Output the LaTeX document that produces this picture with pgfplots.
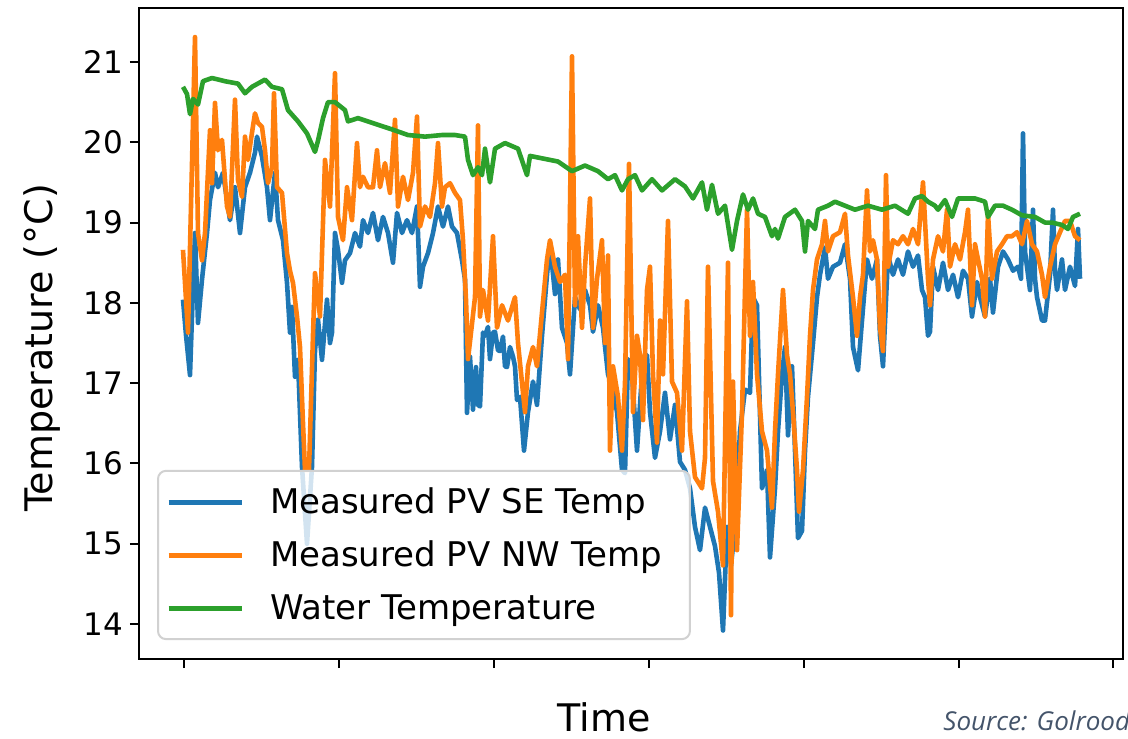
\documentclass[border=0pt]{standalone}
\usepackage{pgfplots}
\pgfplotsset{compat=1.18}
\usepackage{fontspec}
\setmainfont{DejaVu Sans}
\newfontfamily\srcfont{Open Sans}
\definecolor{c1}{HTML}{1F77B4}
\definecolor{c2}{HTML}{FF7F0E}
\definecolor{c3}{HTML}{2CA02C}
\definecolor{srcgray}{HTML}{44546A}
\begin{document}
\begin{tikzpicture}
\begin{axis}[name=ax, scale only axis, width=492pt, height=325.5pt,
 xmin=139, xmax=1123, ymin=13.565, ymax=21.672,
 xtick={184,339,494,649,804,959,1113}, xticklabels={},
 ytick={14,15,16,17,18,19,20,21},
 tick align=outside, xtick pos=bottom, ytick pos=left,
 major tick length=4.5pt,
 every tick/.style={black, line width=1pt},
 axis line style={line width=1pt},
 /pgf/number format/assume math mode=true,
 yticklabel style={font=\fontsize{15.5}{18}\selectfont},
 xlabel={Time}, ylabel={Temperature (°C)},
 xlabel style={font=\fontsize{19}{22}\selectfont, at={(axis description cs:0.4726,-0.1106)}, anchor=base, inner sep=0pt},
 ylabel style={font=\fontsize{19}{22}\selectfont, at={(axis description cs:-0.118,0.478)}, anchor=north, inner sep=0pt},
 legend style={at={(0.0183,0.029)}, anchor=south west, draw=black!18, line width=1pt, rounded corners=4pt, fill=white, fill opacity=0.8, text opacity=1, draw opacity=1, font=\fontsize{17}{20}\selectfont, inner xsep=4pt, inner ysep=6.5pt, row sep=8.2pt, nodes={inner sep=2pt}, /tikz/every odd column/.append style={column sep=11pt}},
 legend cell align=left,
 legend image code/.code={\draw[#1, line width=2.5pt] (0pt,0pt) -- (36.5pt,0pt);},
 every axis plot/.append style={line width=2.3pt, line join=round},
]
\addplot[c1] table {
183 18.04
186 17.60
190 17.10
193 18.20
195 18.87
198 17.75
202 18.29
207 18.87
210 19.28
215 19.62
218 19.44
223 19.62
227 19.28
230 19.03
235 19.44
240 18.87
245 19.44
250 19.62
255 19.87
257 20.07
262 19.82
267 19.44
270 19.03
275 19.62
278 19.03
283 18.78
287 18.25
290 17.63
292 17.95
295 17.08
298 17.29
302 15.96
307 15.00
312 15.96
315 17.41
318 17.79
322 17.29
327 18.04
330 17.50
332 17.63
335 18.87
338 18.66
342 18.25
345 18.53
350 18.62
355 18.87
360 18.70
363 19.03
368 18.87
373 19.12
378 18.78
383 19.07
388 18.87
393 18.50
397 19.12
402 18.87
407 19.03
412 18.87
417 19.20
420 18.20
423 18.45
428 18.62
433 18.87
438 19.20
443 18.95
448 19.20
452 18.95
457 18.87
462 18.53
465 18.29
467 16.63
470 17.33
473 16.67
476 17.20
478 16.73
480 16.71
483 17.63
485 17.59
488 17.70
490 17.30
493 17.63
495 17.64
498 17.41
500 17.40
503 17.58
505 17.21
507 17.20
510 17.45
513 17.33
515 17.21
517 16.79
520 16.83
524 16.16
528 16.64
533 17.02
537 16.73
542 17.59
547 18.35
550 18.73
555 18.11
558 18.54
562 17.69
567 17.50
570 17.11
575 18.07
580 17.92
585 18.16
590 17.97
593 17.64
598 17.97
603 17.69
608 17.11
613 16.92
617 16.64
622 15.92
625 15.88
628 17.30
632 17.11
637 16.16
642 17.11
647 17.35
650 16.64
655 16.07
660 16.40
665 16.88
670 16.30
675 16.73
680 16.02
685 15.92
690 15.69
695 15.21
700 14.92
705 15.45
710 15.21
715 14.97
719 14.64
723 13.92
727 15.21
731 14.73
735 15.21
740 16.40
745 16.92
750 16.88
753 18.07
757 17.97
762 15.69
767 15.92
770 14.83
775 15.69
778 16.40
782 17.11
785 17.45
788 16.35
792 17.21
795 16.16
798 15.07
802 15.16
805 16.16
808 16.83
813 17.50
817 18.07
820 18.35
825 18.69
828 18.30
833 18.45
840 18.50
845 18.73
850 18.30
853 17.45
858 17.16
862 17.78
867 18.54
872 18.30
877 18.54
880 17.59
883 17.21
888 18.59
893 18.35
898 18.54
903 18.35
908 18.64
913 18.45
918 18.59
922 18.16
925 18.07
928 17.59
930 17.64
933 18.45
938 18.16
943 18.50
948 18.16
953 18.35
958 18.07
963 18.40
968 18.30
972 17.83
977 18.26
980 18.07
985 17.83
990 18.30
993 17.88
998 18.45
1003 18.64
1008 18.54
1013 18.40
1018 18.45
1021 18.30
1023 20.11
1025 18.64
1030 18.16
1033 19.16
1035 18.30
1037 18.07
1042 17.78
1045 17.78
1050 18.35
1053 19.16
1055 18.40
1057 18.16
1062 18.54
1065 18.16
1070 18.45
1075 18.21
1078 18.92
1080 18.30
};
\addlegendentry{Measured PV SE Temp\rule{8pt}{0pt}}
\addplot[c2] table {
183 18.66
188 17.63
195 21.31
198 18.87
202 18.53
205 18.87
210 20.15
212 19.49
215 20.49
218 19.90
222 20.03
227 19.20
230 19.07
235 20.53
238 19.53
242 19.32
245 20.07
248 19.78
252 20.12
255 20.36
258 20.24
262 20.19
265 19.90
268 19.49
272 19.69
274 20.61
277 19.44
282 19.37
287 18.62
290 18.40
293 18.25
297 17.83
300 17.45
303 16.50
305 15.92
309 15.92
313 17.60
315 18.37
320 17.83
325 19.78
330 19.20
335 20.86
338 19.07
343 18.78
347 19.44
352 19.03
357 19.99
360 19.44
363 19.57
368 19.44
373 19.44
377 19.90
380 19.44
385 19.74
390 19.37
395 20.28
398 19.20
403 19.57
408 19.28
413 19.62
417 20.32
420 18.95
425 19.20
430 19.07
435 19.49
438 19.99
442 19.20
445 19.44
450 19.49
455 19.37
460 19.28
463 18.78
466 18.04
468 17.30
471 17.63
475 18.07
478 20.21
480 17.83
483 18.16
488 17.78
493 18.83
497 17.69
502 17.97
508 17.78
515 18.07
518 17.50
523 16.88
525 16.64
528 17.21
533 17.45
537 17.21
542 17.88
547 18.54
550 18.78
555 18.45
560 18.26
565 18.35
568 17.30
572 21.07
575 17.97
578 18.83
582 17.69
585 18.45
590 19.30
593 17.69
597 18.30
602 18.78
605 17.50
608 18.59
610 16.16
613 17.21
618 16.83
622 16.16
625 17.00
629 19.73
633 16.64
637 17.59
640 17.35
643 16.54
647 18.16
650 18.45
653 17.11
657 16.26
660 17.78
663 17.11
668 19.02
672 17.02
677 16.88
682 16.16
687 18.02
690 16.40
695 15.83
702 15.69
705 16.07
708 18.45
713 15.78
718 15.40
723 14.73
728 18.50
731 14.11
733 17.02
737 14.92
742 16.64
747 19.16
750 17.59
753 18.26
757 17.11
762 16.40
767 16.16
772 15.45
775 16.40
778 17.11
783 18.16
787 17.35
790 17.11
793 16.64
797 15.92
799 15.40
803 15.92
807 16.83
810 17.59
813 18.16
817 18.54
822 18.73
825 19.02
828 18.64
833 18.83
840 18.88
845 19.11
848 18.59
853 18.07
857 17.59
860 18.07
863 18.35
867 19.40
870 18.64
873 18.78
877 18.54
880 17.69
883 17.40
886 19.59
888 18.45
893 18.78
898 18.73
903 18.83
908 18.73
913 18.92
918 18.73
923 19.50
928 18.30
930 17.97
933 18.54
938 18.83
943 18.64
947 19.16
950 18.45
955 18.73
960 18.54
965 18.88
968 19.16
972 17.97
975 18.73
978 18.54
982 18.30
985 17.83
988 19.11
992 18.30
997 18.64
1002 18.73
1007 18.83
1012 18.83
1017 18.88
1022 18.73
1027 19.02
1032 18.73
1037 18.64
1042 18.35
1045 18.07
1050 18.45
1055 18.73
1060 18.88
1065 19.02
1070 19.02
1075 18.83
1080 18.78
};
\addlegendentry{Measured PV NW Temp\rule{8pt}{0pt}}
\addplot[c3] table {
183 20.69
187 20.60
190 20.35
193 20.54
198 20.47
203 20.76
212 20.80
225 20.76
238 20.73
245 20.61
252 20.69
265 20.78
272 20.69
282 20.66
288 20.40
298 20.26
307 20.11
315 19.88
318 20.02
323 20.30
328 20.50
335 20.50
345 20.40
348 20.26
358 20.30
375 20.23
392 20.16
408 20.09
425 20.07
442 20.09
455 20.09
465 20.07
468 19.78
473 19.59
478 19.69
482 19.59
485 19.92
490 19.50
495 19.92
505 19.99
518 19.92
527 19.59
530 19.83
542 19.80
558 19.76
572 19.64
585 19.71
598 19.64
608 19.54
615 19.59
622 19.40
628 19.54
635 19.59
642 19.40
652 19.54
662 19.40
675 19.54
685 19.45
693 19.30
702 19.50
707 19.16
712 19.47
718 19.11
725 19.21
732 18.66
737 19.02
743 19.35
748 19.16
753 19.30
758 19.11
765 19.07
772 18.83
775 18.92
778 18.80
785 19.07
795 19.16
802 19.02
805 18.64
808 19.02
815 18.92
818 19.16
828 19.21
835 19.26
845 19.21
855 19.16
868 19.21
882 19.16
895 19.21
908 19.11
915 19.30
922 19.33
928 19.26
935 19.21
938 19.16
945 19.28
952 19.07
958 19.30
968 19.30
975 19.30
985 19.26
988 19.07
995 19.21
1003 19.21
1012 19.16
1022 19.09
1035 19.07
1045 19.00
1052 19.00
1062 18.97
1068 18.92
1073 19.07
1080 19.11
};
\addlegendentry{Water Temperature\rule{8pt}{0pt}}
\end{axis}
\node[anchor=base west, font=\srcfont\itshape\fontsize{13}{15}\selectfont, text=srcgray, inner sep=0pt] at ([xshift=402pt,yshift=-35.5pt]ax.south west) {Source: Golroodbari et al.};
\pgfresetboundingbox
\useasboundingbox ([xshift=-69.5pt,yshift=-39.5pt]ax.south west) rectangle ([xshift=2.5pt,yshift=4pt]ax.north east);
\end{tikzpicture}
\end{document}
